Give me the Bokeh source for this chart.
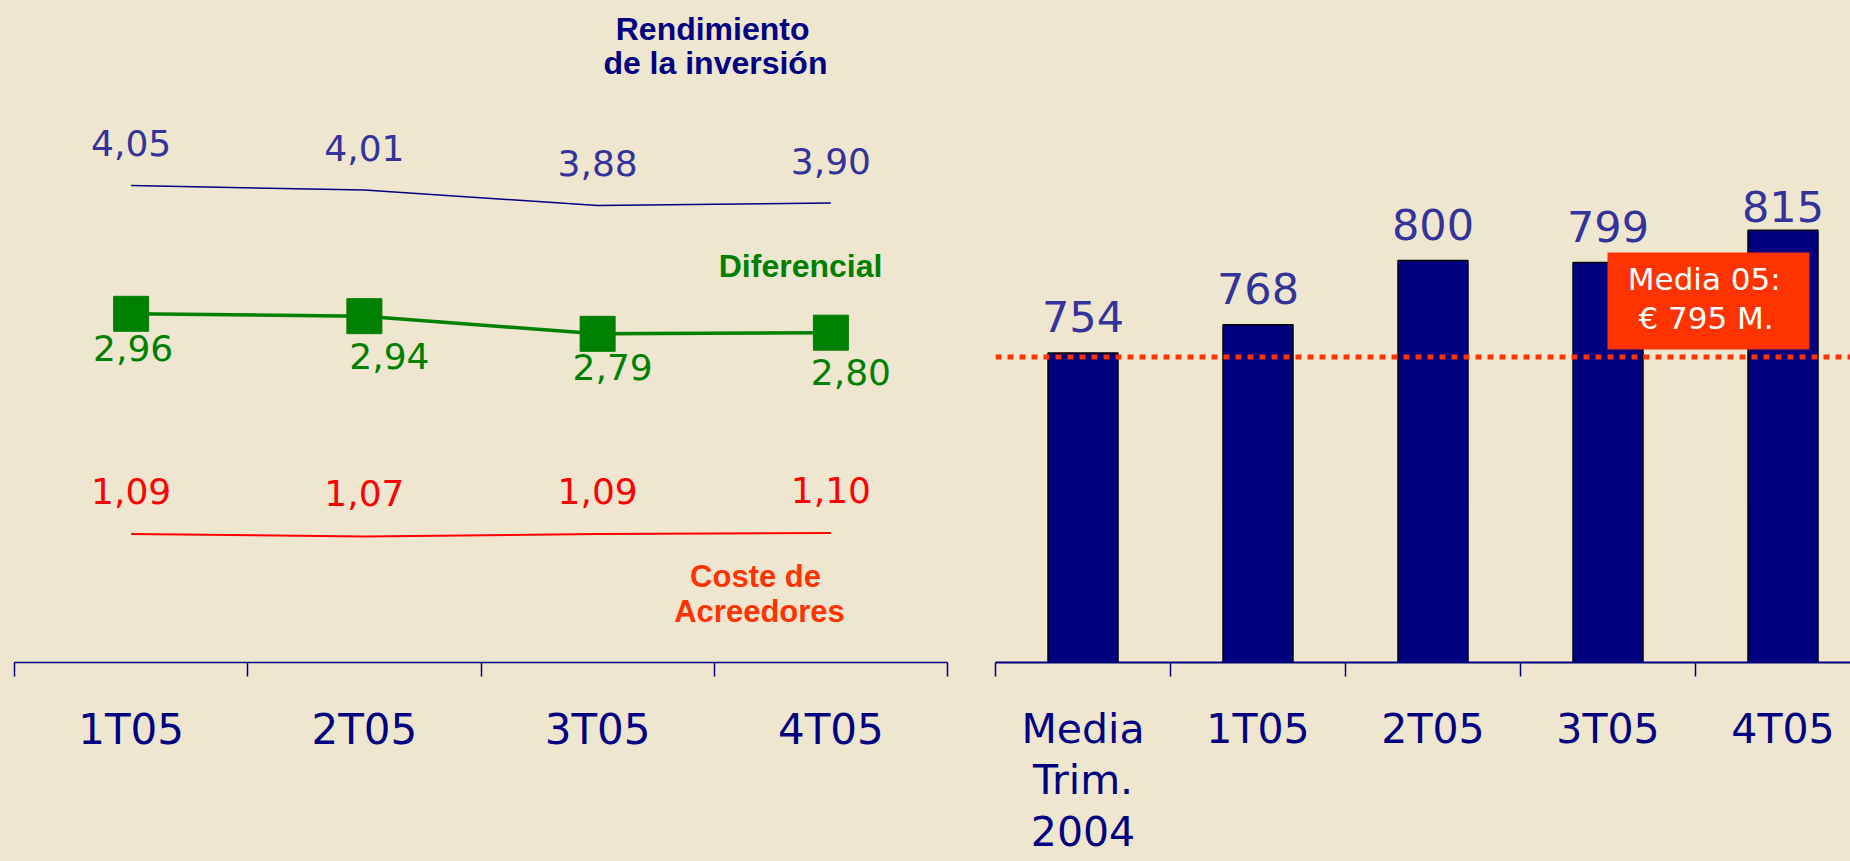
from bokeh.plotting import figure
from bokeh.models import ColumnDataSource, Range1d, FixedTicker, Label, Span, BoxAnnotation
from bokeh.layouts import row
from bokeh.embed import file_html
from bokeh.resources import INLINE
from bokeh.core.properties import value

# ---------------- data ----------------
quarters = ["1T05", "2T05", "3T05", "4T05"]
rendimiento = [4.05, 4.01, 3.88, 3.90]
diferencial = [2.96, 2.94, 2.79, 2.80]
coste = [1.09, 1.07, 1.09, 1.10]

bar_categories = ["Media\nTrim.\n2004", "1T05", "2T05", "3T05", "4T05"]
bar_values = [754, 768, 800, 799, 815]
media_05 = 795
media_line_level = 752

# ---------------- styles ----------------
BG = "#EFE6D0"
NAVY = "#000080"
SLATE = "#333399"
GREEN = "#008000"
RED = "#FF0000"
ORANGE = "#FF3300"
NUM_FONT = "DejaVu Sans"
NAME_FONT = "Liberation Sans"

H = 861
FRAME_H = 662
LEFT_W = 968
RIGHT_W = 882

dif_dx = [2, 25, 15, 20]
dif_dy = [34, 40, 33, 39]
bar_dy = [-36, -36, -36, -36, -24]


def fmt(v):
    return f"{v:.2f}".replace(".", ",")


def style_axis(ax, centers, labels, boundaries, font_size, standoff, line_height):
    ax.ticker = FixedTicker(ticks=centers, minor_ticks=boundaries)
    ax.major_label_overrides = {c: l for c, l in zip(centers, labels)}
    ax.major_tick_out = 0
    ax.major_tick_in = 0
    ax.major_tick_line_color = None
    ax.minor_tick_out = 14
    ax.minor_tick_in = 0
    ax.minor_tick_line_color = NAVY
    ax.minor_tick_line_width = 1.5
    ax.axis_line_color = NAVY
    ax.axis_line_width = 1.5
    ax.major_label_text_font = NUM_FONT
    ax.major_label_text_font_size = f"{font_size}px"
    ax.major_label_text_color = NAVY
    ax.major_label_text_line_height = line_height
    ax.major_label_standoff = standoff


# ---------------- left chart ----------------
left = figure(width=LEFT_W, height=H, x_range=Range1d(0, 4), y_range=Range1d(0, FRAME_H / 117.8),
              y_axis_location=None, toolbar_location=None, output_backend="svg",
              min_border_left=14, min_border_right=21, min_border_top=0,
              min_border_bottom=H - FRAME_H,
              background_fill_color=BG, border_fill_color=BG, outline_line_color=None)
for g in left.grid:
    g.grid_line_color = None

xs = [i + 0.5 for i in range(len(quarters))]
style_axis(left.xaxis[0], xs, quarters, list(range(len(quarters) + 1)), 42, 28, 1.2)

src = ColumnDataSource(dict(
    x=xs, rend=rendimiento, dif=diferencial, cost=coste,
    rend_lbl=[fmt(v) for v in rendimiento],
    dif_lbl=[fmt(v) for v in diferencial],
    cost_lbl=[fmt(v) for v in coste],
    dx=dif_dx, dy=dif_dy,
))

left.line("x", "rend", source=src, line_color=NAVY, line_width=1.5)
left.line("x", "cost", source=src, line_color=RED, line_width=2)
left.line("x", "dif", source=src, line_color=GREEN, line_width=3.5)
left.scatter("x", "dif", source=src, marker="square", size=35, fill_color=GREEN, line_color=GREEN)

common = dict(text_align="center", text_baseline="middle", text_font=value(NUM_FONT),
              text_font_size="36px")
left.text("x", "rend", text="rend_lbl", source=src, y_offset=-42, text_color=SLATE, **common)
left.text("x", "cost", text="cost_lbl", source=src, y_offset=-43, text_color=RED, **common)
left.text("x", "dif", text="dif_lbl", source=src, x_offset="dx", y_offset="dy",
          text_color=GREEN, **common)


def name_label(p, x, y, text, color, size="32px"):
    p.add_layout(Label(x=x, y=y, text=text, text_align="center", text_baseline="middle",
                       text_font=NAME_FONT, text_font_style="bold", text_font_size=size,
                       text_color=color))


name_label(left, 2.993, 5.382, "Rendimiento", NAVY)
name_label(left, 3.005, 5.085, "de la inversión", NAVY)
name_label(left, 3.37, 3.37, "Diferencial", GREEN)
name_label(left, 3.177, 0.726, "Coste de", ORANGE, "31px")
name_label(left, 3.194, 0.429, "Acreedores", ORANGE, "31px")

# ---------------- right chart ----------------
right = figure(width=RIGHT_W, height=H, x_range=Range1d(0, 855 / 175),
               y_range=Range1d(600, 600 + FRAME_H / 2.01),
               y_axis_location=None, toolbar_location=None, output_backend="svg",
               min_border_left=27, min_border_right=0, min_border_top=0,
               min_border_bottom=H - FRAME_H,
               background_fill_color=BG, border_fill_color=BG, outline_line_color=None)
for g in right.grid:
    g.grid_line_color = None

bxs = [i + 0.5 for i in range(len(bar_categories))]
style_axis(right.xaxis[0], bxs, bar_categories, list(range(len(bar_categories) + 1)), 41, 28, 1.08)
right.xaxis[0].axis_line_width = 2

bsrc = ColumnDataSource(dict(x=bxs, v=bar_values, lbl=[str(v) for v in bar_values], dy=bar_dy))
right.vbar(x="x", top="v", bottom=600, width=0.4, source=bsrc,
           fill_color=NAVY, line_color="black", line_width=1.5)
right.text("x", "v", text="lbl", source=bsrc, y_offset="dy", text_align="center",
           text_baseline="middle", text_font=value(NUM_FONT), text_font_size="43px",
           text_color=SLATE)

right.add_layout(Span(location=media_line_level, dimension="width", line_color=ORANGE,
                      line_width=5, line_dash="6 6"))
right.add_layout(BoxAnnotation(left=3.497, right=4.651, top=804, bottom=755.7,
                               fill_color=ORANGE, fill_alpha=1.0, line_color=None))
for x, y, t in [(4.05, 791, "Media 05:"), (4.06, 771.6, f"€ {media_05} M.")]:
    right.add_layout(Label(x=x, y=y, text=t, text_align="center", text_baseline="middle",
                           text_font=NUM_FONT, text_font_size="31px", text_color="white"))

layout = row(left, right)
html = file_html(layout, INLINE, title="Rendimiento y margen")
html = html.replace("</head>", f"<style>html, body {{ background: {BG}; }}</style>\n</head>", 1)
open("out.html", "w").write(html)
